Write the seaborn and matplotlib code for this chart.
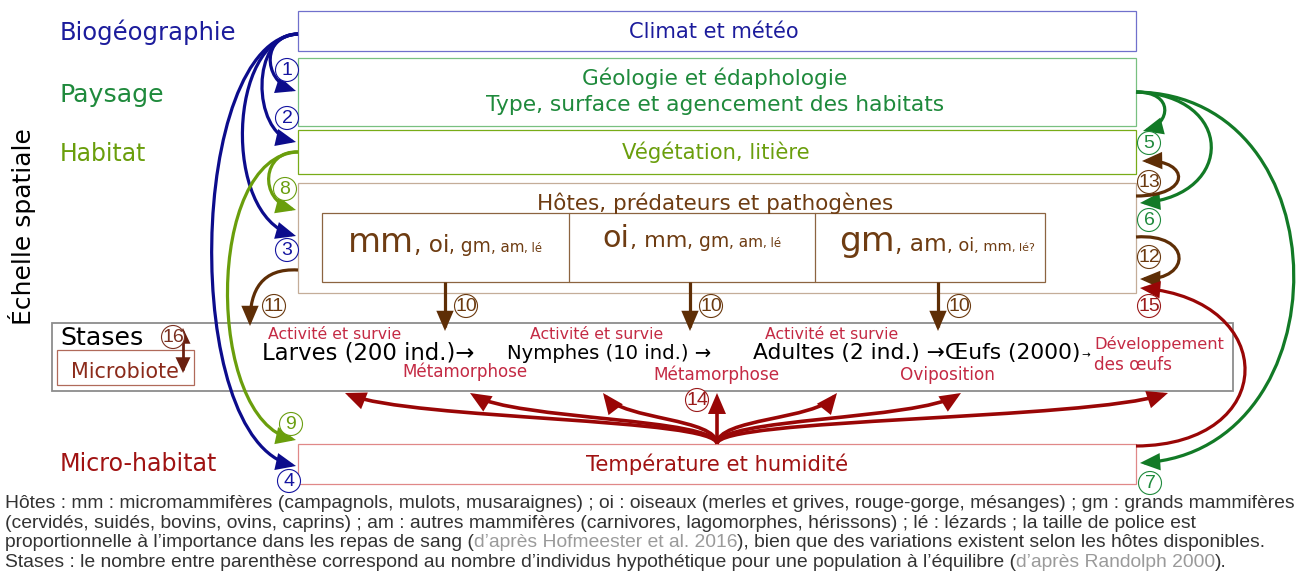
import matplotlib
matplotlib.use("Agg")
import matplotlib.pyplot as plt
import seaborn as sns
from matplotlib.patches import Rectangle, Circle, FancyArrowPatch
from matplotlib.path import Path

# ------------------------------------------------------------------ data
scale_levels = ["Biogéographie", "Paysage", "Habitat", "Micro-habitat"]
axis_title = "Échelle spatiale"
climate_box = "Climat et météo"
landscape_box = ["Géologie et édaphologie", "Type, surface et agencement des habitats"]
habitat_box = "Végétation, litière"
hosts_box = "Hôtes, prédateurs et pathogènes"
micro_box = "Température et humidité"
host_codes = [["mm", "oi", "gm", "am", "lé"],
              ["oi", "mm", "gm", "am", "lé"],
              ["gm", "am", "oi", "mm", "lé?"]]
host_importance = [[29, 20, 16, 13, 10],   # font size ~ share of blood meals
                   [26, 19, 16, 13, 10],
                   [31, 21, 16, 13, 10]]
stase_title = "Stases"
microbiote = "Microbiote"
stages = ["Larves (200 ind.)→", "Nymphes (10 ind.) →", "Adultes (2 ind.) →Œufs (2000)"]
survival = "Activité et survie"
transitions = ["Métamorphose", "Métamorphose", "Oviposition"]
egg_dev = ["Développement", "des œufs"]
relation_ids = ["1", "2", "3", "4", "5", "6", "7", "8", "9", "10", "10", "10",
                "11", "12", "13", "14", "15", "16"]
footnote = [
    [("Hôtes : mm : micromammifères (campagnols, mulots, musaraignes) ; oi : oiseaux (merles et grives, rouge-gorge, mésanges) ; gm : grands mammifères", "k")],
    [("(cervidés, suidés, bovins, ovins, caprins) ; am : autres mammifères (carnivores, lagomorphes, hérissons) ; lé : lézards ; la taille de police est", "k")],
    [("proportionnelle à l’importance dans les repas de sang (", "k"), ("d’après Hofmeester et al. 2016", "g"),
     ("), bien que des variations existent selon les hôtes disponibles.", "k")],
    [("Stases : le nombre entre parenthèse correspond au nombre d’individus hypothétique pour une population à l’équilibre (", "k"),
     ("d’après Randolph 2000", "g"), (").", "k")],
]

# ------------------------------------------------------------------ style
BLUE, BLUE_T, BLUE_BOX = "#0c0c8c", "#1c1c9c", "#7070cc"
GREEN, GREEN_T, GREEN_BOX = "#127a26", "#1f8a3c", "#78c080"
YG, YG_BOX = "#6a9e0c", "#78ac18"
BROWN, BROWN_T, BROWN_BOX, INNER_BOX = "#5e2e06", "#6e3c12", "#c4ad98", "#8c6440"
RED, RED_T, RED_BOX = "#990606", "#a01212", "#e08888"
PROC = "#c42a44"
GREY_BOX = "#8c8c8c"
FOOT = {"k": "#333333", "g": "#9a9a9a"}

sns.set_theme(style="white")
plt.rcParams["font.family"] = ["DejaVu Sans"]

fig = plt.figure(figsize=(13.02, 5.83), dpi=100)
ax = fig.add_axes([0, 0, 1, 1])
ax.set_xlim(0, 1302)
ax.set_ylim(583, 0)
ax.axis("off")
R = fig.canvas.get_renderer()


def wid(t):
    return t.get_window_extent(renderer=R).width


def fit_text(x, y, s, w, color, ha="left", va="baseline", rotation=0, family=None):
    kw = {"family": family} if family else {}
    t = ax.text(x, y, s, fontsize=10, color=color, ha=ha, va=va, rotation=rotation, **kw)
    bb = t.get_window_extent(renderer=R)
    m = bb.height if rotation == 90 else bb.width
    t.set_fontsize(10 * w / m)
    return t


def chain(x, y, pieces, target_w=None, ha="left", family=None):
    kw = {"family": family} if family else {}
    texts = [ax.text(0, y, s, fontsize=sz * 0.72, color=c, ha="left", va="baseline", **kw)
             for s, sz, c in pieces]
    widths = [wid(t) for t in texts]
    if target_w:
        k = target_w / sum(widths)
        for t in texts:
            t.set_fontsize(t.get_fontsize() * k)
        widths = [wid(t) for t in texts]
    cur = x - sum(widths) / 2 if ha == "center" else x
    for t, w in zip(texts, widths):
        t.set_x(cur)
        cur += w
    return texts


def box(x0, y0, x1, y1, ec, lw=0.9):
    ax.add_patch(Rectangle((x0, y0), x1 - x0, y1 - y0, fill=False, ec=ec, lw=lw, zorder=1))


def arrow(verts, color, lw=2.3, hl=1.05, hw=0.45, both=False, z=3):
    codes = [Path.MOVETO] + ([Path.CURVE4] * 3 if len(verts) == 4 else [Path.LINETO])
    style = f"{'<|-|>' if both else '-|>'},head_length={hl},head_width={hw}"
    ax.add_patch(FancyArrowPatch(path=Path(verts, codes), arrowstyle=style, mutation_scale=10,
                                 lw=lw, color=color, zorder=z, joinstyle="miter", capstyle="butt"))


BADGE_FONT = ["Liberation Sans", "DejaVu Sans"]


def badge(x, y, s, color, ec=None):
    ax.add_patch(Circle((x, y), 11.5, fc="white", ec=ec or color, lw=0.8, zorder=5))
    ax.text(x, y + 0.5, s, fontsize=14, color=color, ha="center", va="center", zorder=6,
            family=BADGE_FONT)


# ------------------------------------------------------------------ boxes
box(298, 11, 1136, 51, BLUE_BOX)
box(298, 58, 1136, 126, GREEN_BOX)
box(298, 130, 1136, 174, YG_BOX)
box(298, 183, 1136, 293, BROWN_BOX)
box(322, 213, 1045, 282, INNER_BOX)
ax.plot([569, 569], [213, 282], color=INNER_BOX, lw=0.9)
ax.plot([815, 815], [213, 282], color=INNER_BOX, lw=0.9)
box(52, 323, 1233, 391, GREY_BOX, lw=1.3)
box(57, 350, 194, 385, "#b06a5a")
box(298, 444, 1136, 484, RED_BOX)

# ------------------------------------------------------------------ left labels
fit_text(60, 40, scale_levels[0], 177, BLUE_T)
fit_text(60, 102, scale_levels[1], 105, GREEN_T)
fit_text(60, 161, scale_levels[2], 87, YG)
fit_text(60, 471, scale_levels[3], 158, RED_T)
fit_text(22, 227, axis_title, 197, "black", ha="center", va="center", rotation=90)

# ------------------------------------------------------------------ box texts
fit_text(714, 38, climate_box, 170, BLUE_T, ha="center")
fit_text(715, 85, landscape_box[0], 265, GREEN_T, ha="center")
fit_text(715, 111, landscape_box[1], 457, GREEN_T, ha="center")
fit_text(716, 159, habitat_box, 188, YG, ha="center")
fit_text(715, 210, hosts_box, 355, BROWN_T, ha="center")
fit_text(717, 471, micro_box, 263, RED_T, ha="center")

host_targets = [(445, 252, 195), (692, 247, 179), (937, 251, 195)]
for codes, imp, (cx, by, tw) in zip(host_codes, host_importance, host_targets):
    pieces = [(c if i == 0 else ", " + c, s, BROWN_T) for i, (c, s) in enumerate(zip(codes, imp))]
    chain(cx, by, pieces, target_w=tw, ha="center")

# ------------------------------------------------------------------ stases row
fit_text(60, 345, stase_title, 83, "black")
fit_text(125, 378, microbiote, 108, "#8b2a1a", ha="center")
fit_text(262, 359, stages[0], 212, "black")
fit_text(507, 359, stages[1], 205, "black")
fit_text(753, 359, stages[2], 326, "black")
ax.text(1081, 358, "→", fontsize=7.5, color="black", ha="left", va="baseline")
for x in (268, 530, 765):
    fit_text(x, 339, survival, 133, PROC)
fit_text(402, 377, transitions[0], 126, PROC)
fit_text(653, 380, transitions[1], 127, PROC)
fit_text(900, 380, transitions[2], 95, PROC)
fit_text(1094, 349, egg_dev[0], 130, PROC)
fit_text(1094, 370, egg_dev[1], 78, PROC)

# ------------------------------------------------------------------ arrows
S = (298, 34)
arrow([S, (262, 34), (262, 80), (296, 91)], BLUE)
arrow([S, (250, 34), (252, 132), (296, 142)], BLUE)
arrow([S, (228, 38), (222, 215), (296, 236)], BLUE)
arrow([S, (188, 40), (180, 440), (296, 466)], BLUE)

H = (298, 152)
arrow([H, (262, 150), (258, 200), (296, 210)], YG)
arrow([H, (205, 155), (205, 420), (296, 440)], YG)

G = (1136, 92)
arrow([G, (1175, 92), (1170, 124), (1143, 131)], GREEN)
arrow([G, (1235, 95), (1235, 195), (1140, 203)], GREEN)
arrow([G, (1345, 95), (1345, 450), (1140, 463)], GREEN)

arrow([(298, 270), (262, 268), (250, 290), (250, 326)], BROWN)
for x in (445, 690, 938):
    arrow([(x, 282), (x, 331)], BROWN)
arrow([(1136, 196), (1192, 196), (1190, 160), (1142, 161)], BROWN)
arrow([(1136, 237), (1192, 233), (1192, 280), (1140, 279)], BROWN)

arrow([(1136, 446), (1280, 445), (1280, 300), (1140, 288)], RED)
base = (717, 444)
for tx in (345, 470, 603, 837, 961, 1168):
    c2x = tx + 0.18 * (717 - tx)
    arrow([base, (717, 418), (c2x, 420), (tx, 393)], RED, lw=2.6)
arrow([base, (717, 393)], RED, lw=2.6)
arrow([(183, 328), (183, 373)], "#6a2010", lw=2.0, hl=0.8, hw=0.38, both=True)

# ------------------------------------------------------------------ badges
blue_c, green_c, yg_c, brown_c, red_c = "#1414a0", "#1f8a3c", "#6a9e10", "#6b3a10", "#9a1a1a"
badge_pos = {
    "1": (287, 70, blue_c), "2": (287, 118, blue_c), "3": (287, 250, blue_c), "4": (289, 481, blue_c),
    "5": (1149, 143, green_c), "6": (1149, 220, green_c), "7": (1150, 483, green_c),
    "8": (285, 189, yg_c), "9": (291, 424, yg_c),
    "11": (274, 306, brown_c), "12": (1149, 257, brown_c), "13": (1149, 182, brown_c),
    "14": (697, 400, red_c), "15": (1149, 306, red_c), "16": (173, 337, "#7a3020"),
}
tens = [(466, 306), (711, 306), (959, 306)]
k10 = 0
for rid in relation_ids:
    if rid == "10":
        x, y = tens[k10]
        k10 += 1
        badge(x, y, rid, brown_c)
    else:
        x, y, c = badge_pos[rid]
        badge(x, y, rid, c)

# ------------------------------------------------------------------ footnote
FF = ["Liberation Sans", "DejaVu Sans"]
probe = ax.text(0, 0, footnote[0][0][0], fontsize=10, family=FF)
fs = 10 * 1295 / wid(probe)
probe.remove()
for line, y in zip(footnote, (508, 528, 547, 567)):
    chain(5, y, [(s, fs / 0.72, FOOT[c]) for s, c in line], family=FF)

fig.savefig("out.png", dpi=100)
